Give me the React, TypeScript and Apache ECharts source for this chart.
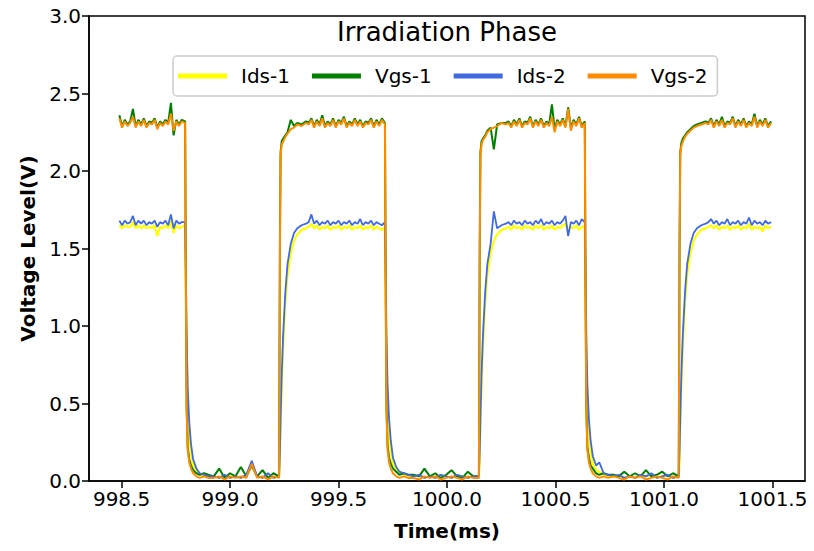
import { useEffect, useRef } from "react";
import * as echarts from "echarts";

// Sample times (ms)
const times = [
  // H0
  998.49, 998.5025, 998.515, 998.5275, 998.54, 998.5525, 998.565, 998.5775, 998.59, 998.6025, 998.615, 998.6275, 998.64,
  998.6525, 998.665, 998.6775, 998.69, 998.7025, 998.715, 998.7275, 998.74, 998.7525, 998.765, 998.7775, 998.793,
  // F1
  998.797, 998.8, 998.805, 998.812, 998.82, 998.83, 998.845, 998.86, 998.88, 998.9,
  // L1
  998.925, 998.95, 998.975, 999.0, 999.025, 999.05, 999.075, 999.1, 999.125, 999.15, 999.175, 999.2, 999.226,
  // R1
  999.23, 999.233, 999.238, 999.245, 999.255, 999.265, 999.28, 999.295, 999.31, 999.33, 999.35,
  // H1
  999.3625, 999.375, 999.3875, 999.4, 999.4125, 999.425, 999.4375, 999.45, 999.4625, 999.475, 999.4875, 999.5, 999.5125,
  999.525, 999.5375, 999.55, 999.5625, 999.575, 999.5875, 999.6, 999.6125, 999.625, 999.6375, 999.65, 999.6625, 999.675,
  999.6875, 999.7, 999.714,
  // F2
  999.718, 999.721, 999.726, 999.733, 999.741, 999.751, 999.766, 999.781, 999.801, 999.821,
  // L2
  999.846, 999.871, 999.896, 999.921, 999.946, 999.971, 999.996, 1000.021, 1000.046, 1000.071, 1000.096, 1000.121, 1000.147,
  // R2
  1000.151, 1000.154, 1000.159, 1000.166, 1000.176, 1000.186, 1000.201, 1000.216, 1000.231, 1000.251, 1000.271,
  // H2
  1000.2835, 1000.296, 1000.3085, 1000.321, 1000.3335, 1000.346, 1000.3585, 1000.371, 1000.3835, 1000.396, 1000.4085,
  1000.421, 1000.4335, 1000.446, 1000.4585, 1000.471, 1000.4835, 1000.496, 1000.5085, 1000.521, 1000.5335, 1000.546,
  1000.5585, 1000.571, 1000.5835, 1000.596, 1000.6085, 1000.621, 1000.635,
  // F3
  1000.639, 1000.642, 1000.647, 1000.654, 1000.662, 1000.672, 1000.687, 1000.702, 1000.722, 1000.742,
  // L3
  1000.767, 1000.792, 1000.817, 1000.842, 1000.867, 1000.892, 1000.917, 1000.942, 1000.967, 1000.992, 1001.017, 1001.042, 1001.068,
  // R3
  1001.072, 1001.075, 1001.08, 1001.087, 1001.097, 1001.107, 1001.122, 1001.137, 1001.152, 1001.172, 1001.192,
  // H3
  1001.2045, 1001.217, 1001.2295, 1001.242, 1001.2545, 1001.267, 1001.2795, 1001.292, 1001.3045, 1001.317, 1001.3295,
  1001.342, 1001.3545, 1001.367, 1001.3795, 1001.392, 1001.4045, 1001.417, 1001.4295, 1001.442, 1001.4545, 1001.467,
  1001.4795, 1001.494,
];

const ids1 = [
  1.65, 1.63, 1.65, 1.64, 1.64, 1.67, 1.63, 1.65, 1.63, 1.65, 1.63, 1.64, 1.63, 1.65, 1.58, 1.64, 1.63, 1.65, 1.63, 1.68, 1.6, 1.65, 1.63, 1.64, 1.65,
  1.2, 0.85, 0.5, 0.3, 0.18, 0.1, 0.06, 0.04, 0.03, 0.03,
  0.03, 0.02, 0.04, 0.02, 0.03, 0.02, 0.04, 0.1, 0.03, 0.02, 0.04, 0.02, 0.03,
  0.15, 0.33, 0.6, 0.87, 1.15, 1.33, 1.47, 1.55, 1.59, 1.62, 1.63,
  1.64, 1.66, 1.63, 1.65, 1.62, 1.64, 1.63, 1.65, 1.62, 1.64, 1.63, 1.65, 1.62, 1.64, 1.63, 1.65, 1.62, 1.64, 1.63, 1.65, 1.62, 1.64, 1.63, 1.65, 1.62, 1.64, 1.63, 1.62, 1.64,
  1.2, 0.85, 0.52, 0.32, 0.19, 0.11, 0.07, 0.05, 0.04, 0.03,
  0.03, 0.04, 0.02, 0.03, 0.02, 0.04, 0.03, 0.02, 0.04, 0.03, 0.02, 0.03, 0.03,
  0.15, 0.33, 0.6, 0.87, 1.15, 1.33, 1.47, 1.55, 1.59, 1.62, 1.63,
  1.64, 1.62, 1.65, 1.63, 1.64, 1.62, 1.65, 1.63, 1.64, 1.62, 1.65, 1.63, 1.65, 1.62, 1.64, 1.63, 1.65, 1.62, 1.64, 1.63, 1.65, 1.66, 1.61, 1.64, 1.63, 1.65, 1.62, 1.64, 1.64,
  1.2, 0.85, 0.52, 0.32, 0.19, 0.11, 0.07, 0.06, 0.04, 0.03,
  0.03, 0.04, 0.02, 0.03, 0.02, 0.04, 0.03, 0.04, 0.02, 0.03, 0.04, 0.02, 0.03,
  0.15, 0.33, 0.6, 0.87, 1.15, 1.33, 1.47, 1.55, 1.59, 1.62, 1.63,
  1.64, 1.65, 1.63, 1.65, 1.62, 1.64, 1.63, 1.65, 1.62, 1.64, 1.63, 1.65, 1.62, 1.64, 1.63, 1.66, 1.62, 1.64, 1.63, 1.64, 1.61, 1.65, 1.63, 1.64,
];

const vgs1 = [
  2.36, 2.29, 2.33, 2.3, 2.32, 2.4, 2.29, 2.33, 2.3, 2.34, 2.29, 2.32, 2.31, 2.34, 2.28, 2.32, 2.3, 2.33, 2.31, 2.44, 2.23, 2.33, 2.3, 2.33, 2.32,
  1.15, 0.48, 0.22, 0.14, 0.1, 0.07, 0.05, 0.04, 0.05, 0.04,
  0.03, 0.08, 0.02, 0.05, 0.03, 0.09, 0.03, 0.1, 0.03, 0.07, 0.02, 0.05, 0.03,
  1.55, 2.12, 2.19, 2.21, 2.23, 2.25, 2.33, 2.29, 2.31, 2.3, 2.32,
  2.31, 2.34, 2.29, 2.33, 2.3, 2.36, 2.29, 2.32, 2.3, 2.34, 2.29, 2.33, 2.31, 2.35, 2.29, 2.32, 2.3, 2.34, 2.3, 2.33, 2.29, 2.32, 2.31, 2.34, 2.29, 2.33, 2.3, 2.34, 2.31,
  1.15, 0.48, 0.23, 0.15, 0.11, 0.08, 0.06, 0.04, 0.05, 0.04,
  0.04, 0.03, 0.08, 0.03, 0.05, 0.02, 0.04, 0.07, 0.03, 0.02, 0.06, 0.03, 0.03,
  1.55, 2.12, 2.19, 2.21, 2.23, 2.26, 2.28, 2.14, 2.3, 2.31, 2.31,
  2.32, 2.29, 2.33, 2.3, 2.34, 2.29, 2.32, 2.31, 2.35, 2.29, 2.33, 2.3, 2.34, 2.29, 2.32, 2.3, 2.43, 2.27, 2.33, 2.3, 2.34, 2.29, 2.41, 2.28, 2.33, 2.3, 2.35, 2.29, 2.32,
  1.15, 0.48, 0.22, 0.15, 0.1, 0.08, 0.05, 0.04, 0.05, 0.04,
  0.04, 0.03, 0.06, 0.03, 0.05, 0.03, 0.07, 0.03, 0.04, 0.06, 0.03, 0.05, 0.03,
  1.55, 2.12, 2.18, 2.21, 2.23, 2.25, 2.27, 2.29, 2.3, 2.31, 2.32,
  2.31, 2.34, 2.29, 2.33, 2.3, 2.35, 2.29, 2.32, 2.31, 2.35, 2.29, 2.33, 2.3, 2.34, 2.29, 2.32, 2.3, 2.37, 2.29, 2.33, 2.3, 2.34, 2.29, 2.32,
];

const ids2 = [
  1.68, 1.65, 1.68, 1.66, 1.67, 1.71, 1.65, 1.68, 1.66, 1.68, 1.65, 1.67, 1.66, 1.68, 1.64, 1.67, 1.66, 1.68, 1.65, 1.72, 1.63, 1.68, 1.66, 1.67, 1.67,
  1.3, 0.95, 0.6, 0.38, 0.24, 0.14, 0.08, 0.05, 0.04, 0.03,
  0.03, 0.02, 0.04, 0.02, 0.03, 0.02, 0.04, 0.13, 0.03, 0.02, 0.05, 0.02, 0.03,
  0.2, 0.4, 0.68, 0.95, 1.22, 1.4, 1.53, 1.6, 1.63, 1.65, 1.66,
  1.67, 1.72, 1.66, 1.68, 1.65, 1.67, 1.66, 1.68, 1.65, 1.67, 1.66, 1.68, 1.65, 1.67, 1.66, 1.68, 1.65, 1.67, 1.66, 1.69, 1.65, 1.67, 1.66, 1.68, 1.65, 1.67, 1.66, 1.65, 1.67,
  1.3, 0.95, 0.62, 0.4, 0.26, 0.15, 0.09, 0.06, 0.05, 0.04,
  0.03, 0.04, 0.02, 0.03, 0.02, 0.04, 0.03, 0.02, 0.04, 0.03, 0.02, 0.03, 0.03,
  0.2, 0.4, 0.68, 0.95, 1.22, 1.4, 1.53, 1.74, 1.63, 1.65, 1.66,
  1.67, 1.65, 1.68, 1.66, 1.67, 1.65, 1.68, 1.66, 1.67, 1.65, 1.68, 1.66, 1.69, 1.65, 1.67, 1.66, 1.68, 1.65, 1.67, 1.66, 1.68, 1.71, 1.58, 1.67, 1.66, 1.68, 1.65, 1.69, 1.67,
  1.3, 0.95, 0.62, 0.4, 0.26, 0.16, 0.1, 0.12, 0.05, 0.04,
  0.03, 0.04, 0.02, 0.03, 0.02, 0.04, 0.03, 0.05, 0.02, 0.03, 0.04, 0.02, 0.03,
  0.2, 0.4, 0.68, 0.95, 1.22, 1.4, 1.53, 1.6, 1.63, 1.65, 1.66,
  1.67, 1.69, 1.66, 1.68, 1.65, 1.67, 1.66, 1.69, 1.65, 1.67, 1.66, 1.68, 1.65, 1.67, 1.66, 1.7, 1.65, 1.68, 1.66, 1.67, 1.65, 1.68, 1.66, 1.67,
];

const vgs2 = [
  2.34, 2.28, 2.32, 2.29, 2.31, 2.35, 2.28, 2.32, 2.29, 2.33, 2.28, 2.31, 2.3, 2.33, 2.27, 2.31, 2.29, 2.32, 2.3, 2.37, 2.26, 2.32, 2.29, 2.32, 2.31,
  1.1, 0.45, 0.2, 0.12, 0.08, 0.05, 0.03, 0.02, 0.03, 0.02,
  0.02, 0.03, 0.01, 0.03, 0.02, 0.03, 0.02, 0.11, 0.02, 0.03, 0.01, 0.03, 0.02,
  1.5, 2.1, 2.17, 2.19, 2.22, 2.24, 2.27, 2.28, 2.3, 2.29, 2.31,
  2.3, 2.33, 2.28, 2.32, 2.29, 2.34, 2.28, 2.31, 2.29, 2.33, 2.28, 2.32, 2.3, 2.34, 2.28, 2.31, 2.29, 2.33, 2.29, 2.32, 2.28, 2.31, 2.3, 2.33, 2.28, 2.32, 2.29, 2.33, 2.3,
  1.1, 0.45, 0.2, 0.12, 0.08, 0.05, 0.03, 0.02, 0.03, 0.02,
  0.02, 0.01, 0.03, 0.02, 0.03, 0.01, 0.02, 0.03, 0.02, 0.01, 0.03, 0.02, 0.02,
  1.5, 2.1, 2.17, 2.2, 2.22, 2.25, 2.27, 2.28, 2.29, 2.31, 2.3,
  2.31, 2.28, 2.32, 2.29, 2.33, 2.28, 2.31, 2.3, 2.34, 2.28, 2.32, 2.29, 2.33, 2.28, 2.31, 2.29, 2.35, 2.25, 2.32, 2.29, 2.33, 2.28, 2.4, 2.26, 2.32, 2.29, 2.34, 2.28, 2.31,
  1.1, 0.45, 0.2, 0.12, 0.08, 0.05, 0.03, 0.02, 0.03, 0.02,
  0.03, 0.02, 0.01, 0.03, 0.02, 0.03, 0.01, 0.02, 0.03, 0.02, 0.01, 0.03, 0.02,
  1.5, 2.1, 2.16, 2.19, 2.22, 2.24, 2.26, 2.28, 2.29, 2.3, 2.31,
  2.3, 2.33, 2.28, 2.32, 2.29, 2.33, 2.28, 2.31, 2.3, 2.34, 2.28, 2.32, 2.29, 2.33, 2.28, 2.31, 2.29, 2.35, 2.28, 2.32, 2.29, 2.33, 2.28, 2.31,
];

const seriesNames = ["Ids-1", "Vgs-1", "Ids-2", "Vgs-2"];
const seriesColors = ["#ffff00", "#008000", "#4169e1", "#ff8c00"];
const seriesWidths = [2.2, 2, 1.8, 2];
const seriesValues = [ids1, vgs1, ids2, vgs2];
const xTicks = [998.5, 999.0, 999.5, 1000.0, 1000.5, 1001.0, 1001.5];

const FONT = "DejaVu Sans";

export default function App() {
  const ref = useRef<HTMLDivElement>(null);
  useEffect(() => {
    if (!ref.current) return;
    const chart = echarts.init(ref.current, null, { renderer: "svg" });
    const n = times.length;
    chart.setOption({
      animation: false,
      backgroundColor: "#ffffff",
      textStyle: { fontFamily: FONT },
      grid: {
        left: 89,
        right: 9,
        top: 16,
        bottom: 70,
        show: true,
        borderColor: "#000",
        borderWidth: 1.5,
        backgroundColor: "transparent",
      },
      graphic: [
        {
          type: "text",
          x: 447,
          y: 32,
          z: 100,
          style: {
            text: "Irradiation Phase",
            fontSize: 26,
            fontFamily: FONT,
            fill: "#000",
            textAlign: "center",
            textVerticalAlign: "middle",
            verticalAlign: "middle",
          },
        },
      ],
      legend: {
        data: seriesNames,
        left: 173,
        top: 56,
        orient: "horizontal",
        icon: "rect",
        itemWidth: 49,
        itemHeight: 5,
        itemGap: 22,
        padding: [10, 10, 10, 5],
        borderColor: "#cccccc",
        borderWidth: 1.5,
        borderRadius: 4,
        backgroundColor: "rgba(255,255,255,0.8)",
        textStyle: {
          fontSize: 20,
          fontFamily: FONT,
          color: "#000",
          lineHeight: 20,
          padding: [0, 0, 0, 9],
        },
      },
      xAxis: {
        type: "value",
        min: 998.35,
        max: 1001.65,
        name: "Time(ms)",
        nameLocation: "middle",
        nameGap: 40,
        nameTextStyle: { fontSize: 20, fontWeight: "bold", color: "#000", fontFamily: FONT },
        axisLine: { show: true, lineStyle: { color: "#000", width: 1.5 } },
        axisTick: { show: true, length: 7, lineStyle: { color: "#000", width: 1.5 }, customValues: xTicks },
        axisLabel: {
          customValues: xTicks,
          fontSize: 20,
          color: "#000",
          fontFamily: FONT,
          margin: 8,
          formatter: (v: number) => v.toFixed(1),
        },
        splitLine: { show: false },
      },
      yAxis: {
        type: "value",
        min: 0,
        max: 3,
        interval: 0.5,
        name: "Voltage Level(V)",
        nameLocation: "middle",
        nameGap: 46,
        nameTextStyle: { fontSize: 20, fontWeight: "bold", color: "#000", fontFamily: FONT },
        axisLine: { show: true, lineStyle: { color: "#000", width: 1.5 } },
        axisTick: { show: true, length: 7, lineStyle: { color: "#000", width: 1.5 } },
        axisLabel: {
          fontSize: 20,
          color: "#000",
          fontFamily: FONT,
          margin: 8,
          formatter: (v: number) => v.toFixed(1),
        },
        splitLine: { show: false },
      },
      series: seriesNames.map((name, k) => ({
        name,
        type: "line",
        showSymbol: false,
        symbol: "none",
        color: seriesColors[k],
        lineStyle: { width: seriesWidths[k], color: seriesColors[k] },
        data: times.slice(0, Math.min(n, seriesValues[k].length)).map((t, i) => [t, seriesValues[k][i]]),
      })),
    });
    return () => chart.dispose();
  }, []);
  return (
    <div
      ref={ref}
      style={{ position: "fixed", left: 0, top: 0, width: 814, height: 551, background: "#fff" }}
    />
  );
}
